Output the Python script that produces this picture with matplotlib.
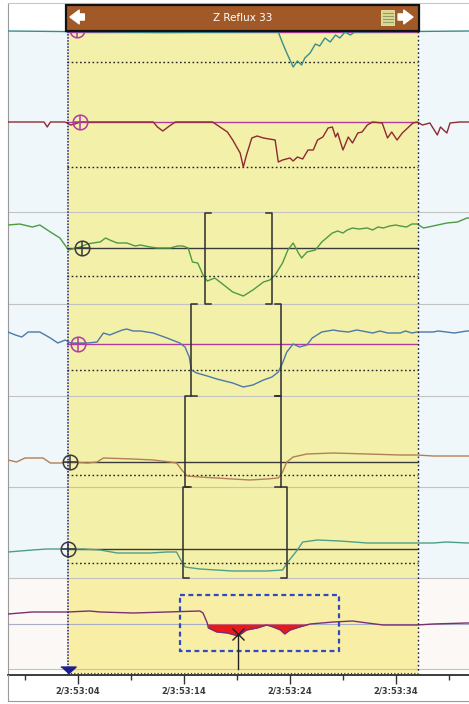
import matplotlib
matplotlib.use("Agg")
import matplotlib.pyplot as plt
from matplotlib.patches import Rectangle
from matplotlib.lines import Line2D

# time axis: seconds after 2/3:53:00, y axis: screen rows of the stacked tracing
tick_pos = [4, 14, 24, 34]
tick_labels = ['2/3:53:04', '2/3:53:14', '2/3:53:24', '2/3:53:34']
minor_pos = [-1, 9, 19, 29, 39]

# impedance channels (top to bottom)
z1_t = [-2.6, 12.0, 21.4, 22.9, 23.3, 23.7, 24.3, 24.7, 25.1, 25.4, 25.9, 26.4, 26.8, 27.3,
        27.8, 28.3, 28.7, 29.2, 29.7, 30.1, 40.9]
z1_y = [31, 32.5, 32, 32, 43, 53, 67, 61, 65, 58, 53, 44, 46, 38, 42, 35, 38, 32, 35, 32, 31]

z2_t = [-2.6, 0.8, 1.1, 1.4, 2.8, 3.3, 3.7, 4.2, 11.1, 11.5, 12.0, 12.5, 12.9, 13.2, 16.7,
        17.4, 18.1, 18.6, 19.3, 19.6, 19.9, 20.4, 20.9, 21.5, 22.6, 22.9, 23.3, 24.0, 24.3,
        24.7, 25.2, 25.7, 26.2, 26.6, 27.1, 27.6, 28.0, 28.3, 28.5, 29.0, 29.5, 29.9, 30.4,
        30.8, 31.3, 31.8, 32.7, 33.2, 33.6, 34.1, 34.6, 35.1, 35.6, 36.0, 36.5, 37.2, 37.9,
        38.2, 38.8, 39.1, 40.0, 40.9]
z2_y = [122, 122, 127, 122, 122, 125, 124, 122, 122, 127, 131, 127, 124, 122, 122,
        127, 132, 140, 153, 167, 155, 138, 136, 138, 140, 162, 160, 158, 161,
        157, 159, 150, 150, 140, 137, 128, 127, 137, 133, 150, 137, 143, 133,
        132, 125, 122, 123, 138, 132, 140, 133, 128, 123, 122, 125, 123, 135,
        127, 133, 123, 122, 122]

z3_t = [-2.6, -1.5, -0.3, 0.4, 1.4, 2.3, 3.1, 4.2, 4.9, 5.4, 6.1, 6.6, 7.0, 7.7, 8.6, 9.4,
        9.9, 10.8, 11.5, 11.9, 12.7, 13.4, 13.9, 14.4, 14.8, 15.3, 15.8, 16.2, 16.9, 17.4,
        18.6, 19.6, 20.5, 21.5, 22.1, 22.6, 23.3, 23.8, 24.3, 24.8, 25.1, 25.6, 26.4, 27.0,
        28.0, 28.5, 29.0, 29.4, 29.9, 30.5, 31.3, 31.8, 32.3, 32.8, 33.4, 34.0, 34.4, 35.0,
        35.5, 36.0, 36.6, 37.5, 38.8, 39.8, 40.7, 40.9]
z3_y = [225, 224, 227, 225, 232, 238, 250, 247, 244, 243, 242, 238, 240, 243, 243, 246,
        245, 247, 248, 248, 248, 246, 246, 248, 262, 263, 275, 281, 278, 282,
        292, 296, 290, 282, 280, 275, 263, 250, 243, 253, 258, 252, 250, 242,
        233, 231, 233, 230, 228, 229, 228, 230, 227, 228, 226, 225, 226, 227,
        224, 224, 228, 226, 223, 222, 218, 218]

z4_t = [-2.6, -1.9, -1.3, -0.7, 0.4, 1.4, 2.1, 2.8, 3.3, 4.9, 5.8, 6.4, 7.0, 7.7, 8.2, 8.6,
        9.2, 9.9, 11.1, 12.4, 13.6, 14.1, 14.5, 14.7, 15.2, 16.2, 17.1, 18.6, 19.6, 20.5,
        21.5, 22.3, 22.9, 23.3, 23.7, 24.3, 24.9, 25.6, 26.1, 27.0, 28.1, 28.6, 29.5, 30.3,
        31.3, 31.8, 32.5, 33.2, 34.4, 34.9, 35.5, 36.0, 37.5, 38.0, 39.5, 40.7, 40.9]
z4_y = [332, 335, 337, 332, 332, 338, 343, 340, 343, 343, 342, 333, 335, 332, 330, 329,
        331, 331, 333, 338, 343, 347, 357, 370, 373, 376, 379, 383, 387, 385,
        380, 377, 372, 363, 352, 344, 347, 345, 338, 332, 330, 331, 332, 330,
        332, 333, 331, 333, 333, 331, 333, 332, 332, 331, 333, 331, 331]

z5_t = [-2.6, -1.8, -1.0, 0.7, 1.4, 2.3, 3.3, 4.9, 5.8, 6.4, 9.2, 11.1, 12.7, 13.3, 13.8,
        14.3, 15.5, 17.1, 18.6, 20.2, 21.8, 22.9, 23.3, 23.7, 24.3, 25.6, 28.1, 31.3, 34.4,
        36.0, 37.5, 40.7, 40.9]
z5_y = [460, 462, 458, 458, 463, 463, 462, 463, 462, 458, 459, 460, 462, 463, 470,
        476, 477, 478, 479, 480, 479, 478, 472, 462, 457, 454, 453, 454, 455,
        455, 456, 456, 456]

z6_t = [-2.6, -0.3, 1.1, 3.0, 4.5, 6.1, 7.7, 9.2, 10.8, 12.4, 13.3, 13.6, 14.1, 15.5, 18.6,
        21.8, 23.3, 23.8, 24.7, 25.2, 26.6, 28.7, 31.3, 34.4, 36.0, 37.5, 38.8, 40.7, 40.9]
z6_y = [552, 550, 549, 549, 549, 550, 553, 553, 553, 552, 552, 558, 567, 569, 571,
        571, 570, 562, 550, 542, 540, 541, 543, 543, 543, 543, 542, 543, 543]

# pH channel
ph_t = [-2.6, -0.3, 3.0, 5.1, 6.1, 9.2, 12.4, 15.5, 15.8, 16.2, 16.3, 17.1, 18.1, 19.1, 19.9,
        20.9, 21.8, 22.4, 23.1, 23.5, 24.0, 24.9, 25.9, 28.1, 29.9, 31.3, 32.8, 34.4, 36.0,
        37.5, 40.7, 40.9]
ph_y = [614, 612, 612, 611, 612, 613, 612, 611, 613, 623, 628, 632, 633, 636, 630,
        628, 625, 627, 630, 634, 630, 627, 624, 622, 621, 623, 625, 625, 625,
        624, 623, 623]
ph_ref = 624
acid_end = 26.5

traces = [(z1_t, z1_y, '#3a8c8c'), (z2_t, z2_y, '#8e2a30'), (z3_t, z3_y, '#4e9a44'),
          (z4_t, z4_y, '#4b7aa6'), (z5_t, z5_y, '#b37f58'), (z6_t, z6_y, '#4e9f88')]

base_y = [31.5, 122, 248, 344, 462, 549]
thresh_y = [62, 167, 276, 370, 475, 563]
base_col = ['#b13aa3', '#b13aa3', '#3a3a3a', '#b13aa3', '#3a3a3a', '#3a3a3a']
mark_t = [3.9, 4.2, 4.4, 4.0, 3.25, 3.06]
mark_y = [30, 122, 248, 344, 462, 549]

# bolus brackets (start, end) for channels 3-6
br_t0 = [15.98, 14.66, 14.09, 13.91]
br_t1 = [22.30, 23.15, 23.15, 23.72]
br_rows = [(213, 304), (304, 396), (396, 487), (487, 578)]

ev_t0, ev_t1 = 2.96, 36.08   # Z reflux episode

fig = plt.figure(figsize=(4.69, 7.04), dpi=100)
ax = fig.add_axes([8 / 469, 29 / 704, 461 / 469, 672 / 704])
ax.set_xlim(-2.6, 40.89)
ax.set_ylim(675, 3)

# backgrounds
ax.axhspan(31, 578, color='#eff7fa', zorder=0, lw=0)
ax.axhspan(578, 669, color='#fbf8f5', zorder=0, lw=0)
ax.add_patch(Rectangle((ev_t0, 31), ev_t1 - ev_t0, 547, fc='#f3f0aa', ec='none', zorder=1))
ax.add_patch(Rectangle((ev_t0, 578), ev_t1 - ev_t0, 95, fc='#f8eea6', ec='none', zorder=1))
for r in [212, 304, 396, 487, 578, 669]:
    ax.axhline(r, color='#c2c2c2', lw=0.8, zorder=2)

# baselines and thresholds
for i in range(6):
    ax.plot([ev_t0, ev_t1], [base_y[i], base_y[i]], color=base_col[i], lw=1.0, zorder=3)
    ax.plot([ev_t0, ev_t1], [thresh_y[i], thresh_y[i]], color='#222222', lw=1.0,
            ls=(0, (1.2, 1.8)), zorder=3)

# traces
for t, y, c in traces:
    ax.plot(t, y, color=c, lw=1.0, zorder=4)

# baseline markers
for i in range(6):
    ax.plot(mark_t[i], mark_y[i], marker='o', ms=10.5, mfc='none', mec=base_col[i], mew=1.1, zorder=5)
    ax.plot(mark_t[i], mark_y[i], marker='+', ms=10.5, mec=base_col[i], mew=1.1, zorder=5)

# brackets
stub = 0.55
for t0, t1, (r0, r1) in zip(br_t0, br_t1, br_rows):
    ax.plot([t0 + stub, t0, t0, t0 + stub], [r0, r0, r1, r1], color='#2d2d2d', lw=1.1, zorder=5)
    ax.plot([t1 - stub, t1, t1, t1 - stub], [r0, r0, r1, r1], color='#2d2d2d', lw=1.1, zorder=5)

# pH channel
ax.axhline(ph_ref, color='#a9aec4', lw=0.8, zorder=2)
ax.fill_between(ph_t, ph_y, ph_ref,
                where=[v > ph_ref and t < acid_end for t, v in zip(ph_t, ph_y)],
                interpolate=True, color='#e8191c', lw=0, zorder=3)
ax.plot(ph_t, ph_y, color='#7a2f6f', lw=1.0, zorder=4)
ax.add_patch(Rectangle((13.62, 595), 15.0, 56, fc='none', ec='#2f49c4', lw=1.6,
                       ls=(0, (2.2, 1.6)), zorder=5))
ax.plot([19.09, 19.09], [669, 636], color='#222222', lw=1.0, zorder=5)
ax.plot(19.09, 634, marker='x', ms=8, mec='#222222', mew=1.0, zorder=6)

# episode markers
ax.plot([3.06, 3.06], [31, 667], color='#1c1c8e', lw=1.1, ls=(0, (1, 1)), zorder=6)
ax.plot(3.06, 670, marker=[(-1, 0.45), (1, 0.45), (0, -0.45)], ms=11, color='#1c1c8e', zorder=7)
ax.plot([ev_t1, ev_t1], [31, 673], color='#222222', lw=1.0, ls=(0, (1.2, 1.8)), zorder=6)
ax.plot([ev_t0, ev_t1], [673, 673], color='#444444', lw=0.8, ls=(0, (1.2, 1.8)), zorder=6)

# header bar
ax.add_patch(Rectangle((2.87, 5), 33.3, 26, fc='#a15a27', ec='#111111', lw=1.6, zorder=10))
ax.text((2.87 + 36.17) / 2, 18, 'Z Reflux 33', color='white', fontsize=7.5,
        ha='center', va='center', zorder=11)
ax.annotate('', xy=(3.25, 17), xytext=(4.6, 17), zorder=11,
            arrowprops=dict(arrowstyle='simple,head_length=0.6,head_width=0.9,tail_width=0.4',
                            color='white', shrinkA=0, shrinkB=0, mutation_scale=11))
ax.annotate('', xy=(35.6, 17), xytext=(34.2, 17), zorder=11,
            arrowprops=dict(arrowstyle='simple,head_length=0.6,head_width=0.9,tail_width=0.4',
                            color='white', shrinkA=0, shrinkB=0, mutation_scale=11))
ax.add_patch(Rectangle((32.6, 10), 1.25, 15, fc='#d7d88c', ec='#e8e6b0', lw=0.6, zorder=11))
for r in [13, 16, 19, 22]:
    ax.plot([32.75, 33.7], [r, r], color='#8f9a6a', lw=0.7, zorder=12)

# axis styling
ax.spines['right'].set_visible(False)
ax.spines['left'].set_color('#9a9a9a')
ax.spines['top'].set_color('#c8c8c8')
ax.spines['bottom'].set_color('#1a1a1a')
ax.spines['bottom'].set_linewidth(1.2)
ax.set_yticks([])
ax.set_xticks(tick_pos)
ax.set_xticklabels(tick_labels, fontsize=6, color='#3a3a3a', fontweight='bold')
ax.set_xticks(minor_pos, minor=True)
ax.tick_params(axis='x', which='major', length=6.5, width=1.0, color='#333333', pad=2)
ax.tick_params(axis='x', which='minor', length=3.5, width=1.0, color='#333333')

fig.add_artist(Line2D([8 / 469, 8 / 469], [3 / 704, 29 / 704], color='#9a9a9a', lw=0.8))
fig.add_artist(Line2D([8 / 469, 1], [3 / 704, 3 / 704], color='#9a9a9a', lw=0.8))

fig.savefig('out.png', dpi=100)
